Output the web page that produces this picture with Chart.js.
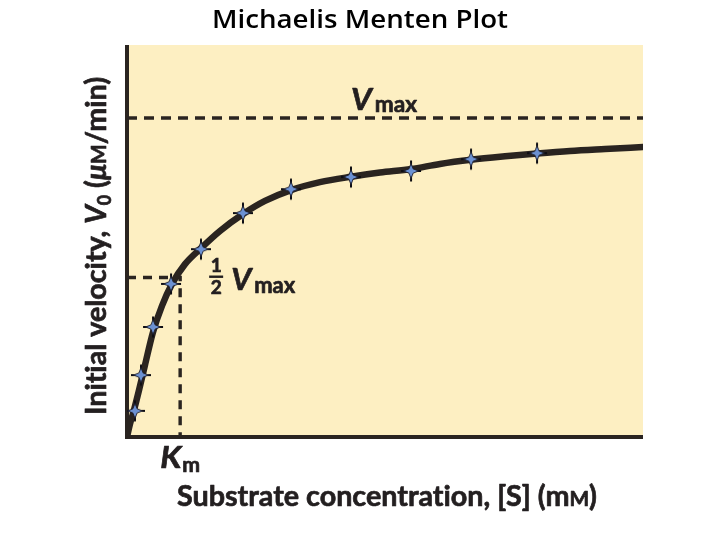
<!DOCTYPE html>
<html>
<head>
<meta charset="utf-8">
<script src="https://cdn.jsdelivr.net/npm/chart.js@4"></script>
<style>
html,body{margin:0;padding:0;background:#fff;}
canvas{display:block;}
</style>
</head>
<body>
<canvas id="c" width="720" height="540"></canvas>
<script>
// ---- data ----
const VMAX = 1.0;          // maximum velocity (relative units)
const KM = 1.03;           // substrate concentration at half Vmax (mM)
const S_MAX = 10;          // x-axis extent (mM)
const V_AXIS_MAX = 1.229;  // y-axis extent
// measured points
const sConc = [0.155,0.271,0.504,0.853,1.434,2.248,3.178,4.341,5.504,6.667,7.946];
const v0    = [0.082,0.194,0.345,0.480,0.589,0.702,0.777,0.815,0.834,0.871,0.890];
// fitted curve
const curveS = [0,0.058,0.136,0.233,0.349,0.504,0.678,0.872,1.124,1.434,1.802,2.248,2.674,3.178,3.740,4.341,4.903,5.504,6.066,6.667,7.326,7.946,8.585,9.264,10.0];
const curveV = [0,0.041,0.085,0.147,0.226,0.329,0.411,0.480,0.542,0.592,0.646,0.699,0.740,0.774,0.799,0.816,0.829,0.840,0.856,0.869,0.880,0.889,0.897,0.903,0.909];

const INK = '#2a2420';
const LBL = 'bold';

function makeStar(){
  const c = document.createElement('canvas'); c.width = 24; c.height = 24;
  const g = c.getContext('2d');
  g.strokeStyle = '#0d0d12'; g.lineWidth = 2;
  g.beginPath(); g.moveTo(2,12); g.lineTo(22,12); g.moveTo(12,1.5); g.lineTo(12,22.5); g.stroke();
  g.beginPath();
  for (let i=0;i<8;i++){
    const a = i*Math.PI/4 - Math.PI/2;
    const r = (i%2) ? 3 : 7.5;
    const px = 12 + r*Math.cos(a), py = 12 + r*Math.sin(a);
    if (i===0) g.moveTo(px,py); else g.lineTo(px,py);
  }
  g.closePath();
  g.fillStyle = '#6c91d2'; g.fill();
  g.strokeStyle = '#1c1c2a'; g.lineWidth = 0.9; g.stroke();
  return c;
}

function drawRich(ctx, segs, x, y, w, rotate, thick){
  ctx.save();
  ctx.translate(x, y);
  if (rotate) ctx.rotate(-Math.PI/2);
  let total = 0;
  segs.forEach(s => { ctx.font = s.f; s.w = ctx.measureText(s.t).width; total += s.w + (s.gap||0); });
  const sx = w ? w/total : 1;
  ctx.scale(sx, 1);
  ctx.strokeStyle = ctx.fillStyle; ctx.lineWidth = thick || 0; ctx.lineJoin = 'round';
  let cx = 0;
  segs.forEach(s => {
    ctx.font = s.f;
    ctx.fillText(s.t, cx, s.dy||0);
    if (thick) ctx.strokeText(s.t, cx, s.dy||0);
    cx += s.w + (s.gap||0);
  });
  ctx.restore();
}

const decor = {
  id: 'decor',
  beforeDraw(chart){
    const {ctx, chartArea: a} = chart;
    ctx.save();
    ctx.fillStyle = '#fff'; ctx.fillRect(0,0,chart.width,chart.height);
    ctx.fillStyle = '#fdefc2'; ctx.fillRect(a.left-2, a.top, a.right-a.left+2, a.bottom-a.top);
    ctx.restore();
  },
  beforeDatasetsDraw(chart){
    const {ctx, chartArea: a} = chart;
    ctx.save();
    ctx.strokeStyle = INK; ctx.lineWidth = 4; ctx.lineCap = 'butt';
    ctx.beginPath();
    ctx.moveTo(a.left, a.top); ctx.lineTo(a.left, a.bottom+2);
    ctx.moveTo(a.left-2, a.bottom); ctx.lineTo(a.right, a.bottom);
    ctx.stroke();
    ctx.restore();
  },
  afterDraw(chart){
    const {ctx, chartArea: a, scales:{x, y}} = chart;
    ctx.save();
    ctx.textBaseline = 'alphabetic'; ctx.textAlign = 'left';
    // title
    ctx.fillStyle = '#000';
    drawRich(ctx, [{t:'Michaelis Menten Plot', f:'600 26px "Open Sans"'}], 212, 28, 296);
    ctx.fillStyle = '#231f20';
    const T = 0.7;
    // Vmax label
    const yV = y.getPixelForValue(VMAX);
    drawRich(ctx, [{t:'V', f:'italic '+LBL+' 31px Lato', gap:3}, {t:'max', f:LBL+' 22px Lato', dy:2}], x.getPixelForValue(4.34), yV-8, 66, false, T);
    // 1/2 Vmax label
    const yH = y.getPixelForValue(VMAX/2);
    const xK = x.getPixelForValue(KM);
    const fx = xK + 36;
    ctx.font = LBL+' 19px Lato'; ctx.textAlign = 'center';
    ctx.strokeStyle = ctx.fillStyle; ctx.lineWidth = T;
    ctx.fillText('1', fx, yH-6); ctx.strokeText('1', fx, yH-6);
    ctx.fillText('2', fx, yH+16); ctx.strokeText('2', fx, yH+16);
    ctx.fillRect(fx-7, yH-2, 14, 2.4);
    ctx.textAlign = 'left';
    drawRich(ctx, [{t:'V', f:'italic '+LBL+' 31px Lato', gap:3}, {t:'max', f:LBL+' 22px Lato', dy:3}], xK+51, yH+12, 64, false, T);
    // Km label
    drawRich(ctx, [{t:'K', f:'italic '+LBL+' 31px Lato', gap:1}, {t:'m', f:LBL+' 20px Lato', dy:4}], xK-20, a.bottom+31, 40, false, T);
    // x title
    drawRich(ctx, [
      {t:'Substrate concentrat', f:LBL+' 29px Lato'},
      {t:'ion, [S] (m', f:LBL+' 29px Lato'},
      {t:'M', f:LBL+' 21px Lato'},
      {t:')', f:LBL+' 29px Lato'}
    ], 177, 506, 420, false, T);
    // y title
    drawRich(ctx, [
      {t:'Init', f:LBL+' 29px Lato'},
      {t:'ial velocity, ', f:LBL+' 29px Lato'},
      {t:'V', f:'italic '+LBL+' 29px Lato'},
      {t:'0', f:LBL+' 18px Lato', dy:5, gap:7},
      {t:'(', f:LBL+' 29px Lato'},
      {t:'\u03bc', f:'italic '+LBL+' 29px Lato'},
      {t:'M', f:LBL+' 21px Lato'},
      {t:'/min)', f:LBL+' 29px Lato'}
    ], 106, 415, 338, true, T);
    ctx.restore();
  }
};

const pts = sConc.map((s,i) => ({x:s, y:v0[i]}));
const curve = curveS.map((s,i) => ({x:s, y:curveV[i]}));
const vmaxLine = [{x:0, y:VMAX}, {x:S_MAX, y:VMAX}];
const halfLine = [{x:0, y:VMAX/2}, {x:KM, y:VMAX/2}, {x:KM, y:0}];

new Chart(document.getElementById('c'), {
  type: 'line',
  data: {
    datasets: [
      {label:'Measured', data: pts, showLine:false, pointStyle: makeStar(), pointRadius: 11, order: 0},
      {label:'Michaelis-Menten curve', data: curve, borderColor: INK, borderWidth: 6.5, pointRadius: 0, cubicInterpolationMode:'monotone', borderCapStyle:'round', order: 1},
      {label:'Vmax', data: vmaxLine, borderColor: INK, borderWidth: 3.4, borderDash:[10,7], pointRadius: 0, order: 2},
      {label:'Half Vmax', data: halfLine, borderColor: INK, borderWidth: 3.4, borderDash:[9,7], pointRadius: 0, order: 3}
    ]
  },
  options: {
    responsive: false,
    animation: false,
    devicePixelRatio: 1,
    layout: {padding: {left:127, right:77, top:45, bottom:103}},
    scales: {
      x: {type:'linear', display:false, min:0, max:S_MAX},
      y: {type:'linear', display:false, min:0, max:V_AXIS_MAX}
    },
    plugins: {legend:{display:false}, tooltip:{enabled:false}, title:{display:false}}
  },
  plugins: [decor]
});
</script>
</body>
</html>
